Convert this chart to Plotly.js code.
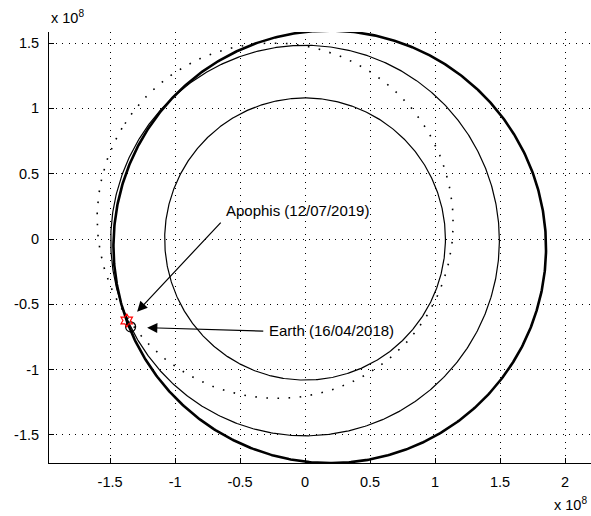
<!DOCTYPE html>
<html>
<head>
<meta charset="utf-8">
<script src="https://cdn.plot.ly/plotly-3.0.1.min.js"></script>
<style>html,body{margin:0;padding:0;background:#fff;}#chart{width:591px;height:516px;}</style>
</head>
<body>
<div id="chart"></div>
<script>
// Orbit parameters (units of 1e8 km)
const orbitNames = ['Venus orbit', 'Earth orbit', 'Transfer orbit', 'Apophis orbit'];
const orbitSemiMajor = [1.08, 1.495, 1.665, 1.375];
const orbitSemiMinor = [1.08, 1.495, 1.655, 1.355];
const orbitCenterX = [0.0, 0.0, 0.19, -0.23];
const orbitCenterY = [0.0, -0.012, -0.06, 0.14];
const orbitTiltDeg = [0, 0, -17, 149];

// Marked positions
const earthPos = [-1.342, -0.672];
const apophisPos = [-1.372, -0.624];

// Annotation texts
const apophisLabel = 'Apophis (12/07/2019)';
const earthLabel = 'Earth (16/04/2018)';

// Tick labels
const xTickVals = [-1.5, -1, -0.5, 0, 0.5, 1, 1.5, 2];
const xTickText = ['-1.5', '-1', '-0.5', '0', '0.5', '1', '1.5', '2'];
const yTickVals = [-1.5, -1, -0.5, 0, 0.5, 1, 1.5];
const yTickText = ['-1.5', '-1', '-0.5', '0', '0.5', '1', '1.5'];

function ellipse(i) {
  const xs = [], ys = [];
  const phi = orbitTiltDeg[i] * Math.PI / 180;
  for (let k = 0; k <= 720; k++) {
    const t = k * Math.PI / 360;
    const ca = orbitSemiMajor[i] * Math.cos(t), sb = orbitSemiMinor[i] * Math.sin(t);
    xs.push(orbitCenterX[i] + ca * Math.cos(phi) - sb * Math.sin(phi));
    ys.push(orbitCenterY[i] + ca * Math.sin(phi) + sb * Math.cos(phi));
  }
  return {x: xs, y: ys};
}

const styles = [
  {color: '#000', width: 1.2},
  {color: '#000', width: 1.2},
  {color: '#000', width: 2.6},
  {color: '#000', width: 1.6, dash: '1.6px,9.5px'}
];

const traces = orbitNames.map((n, i) => {
  const e = ellipse(i);
  return {x: e.x, y: e.y, mode: 'lines', name: n, line: styles[i], hoverinfo: 'skip'};
});

traces.push({x: [earthPos[0]], y: [earthPos[1]], mode: 'markers', name: 'Earth',
  marker: {symbol: 'circle-open', size: 10, color: '#000', line: {width: 1.2, color: '#000'}}});
traces.push({x: [apophisPos[0]], y: [apophisPos[1]], mode: 'markers', name: 'Apophis',
  marker: {symbol: 'hexagram-open', size: 10, color: '#ff0000', line: {width: 1.2, color: '#ff0000'}}});

const fam = 'Liberation Sans, Arial, Helvetica, sans-serif';
const font = {family: fam, size: 14.5, color: '#000'};
const noteFont = {family: fam, size: 15, color: '#000'};

const axisCommon = {
  showline: true, linecolor: '#000', linewidth: 1,
  ticks: 'inside', ticklen: 5, tickcolor: '#000', tickwidth: 1,
  showgrid: true, gridcolor: '#000', gridwidth: 1, griddash: '1px,5.5px',
  zeroline: false, tickfont: font, mirror: false
};

const layout = {
  width: 591, height: 516,
  margin: {l: 49, r: 0, t: 32, b: 53},
  paper_bgcolor: '#fff', plot_bgcolor: '#fff',
  showlegend: false,
  font: font,
  xaxis: Object.assign({}, axisCommon, {range: [-1.97, 2.2], tickmode: 'array', tickvals: xTickVals, ticktext: xTickText, ticklabelstandoff: 6}),
  yaxis: Object.assign({}, axisCommon, {range: [-1.715, 1.585], tickmode: 'array', tickvals: yTickVals, ticktext: yTickText, ticklabelstandoff: 6}),
  annotations: [
    {x: apophisPos[0] + 0.08, y: apophisPos[1] + 0.067, ax: -0.638, ay: 0.137, xref: 'x', yref: 'y', axref: 'x', ayref: 'y',
     text: '', showarrow: true, arrowhead: 2, arrowsize: 1.7, arrowwidth: 1.2, arrowcolor: '#000'},
    {x: -1.215, y: -0.679, ax: -0.31, ay: -0.705, xref: 'x', yref: 'y', axref: 'x', ayref: 'y',
     text: '', showarrow: true, arrowhead: 2, arrowsize: 1.7, arrowwidth: 1.2, arrowcolor: '#000'},
    {x: -0.62, y: 0.221, xref: 'x', yref: 'y', xanchor: 'left', yanchor: 'middle', showarrow: false,
     text: apophisLabel, font: noteFont},
    {x: -0.29, y: -0.70, xref: 'x', yref: 'y', xanchor: 'left', yanchor: 'middle', showarrow: false,
     text: earthLabel, font: noteFont},
    {x: 0, y: 1, xref: 'paper', yref: 'paper', xanchor: 'left', yanchor: 'bottom', yshift: 4, showarrow: false,
     text: 'x 10<sup>8</sup>', font: font},
    {x: 1, y: 0, xref: 'paper', yref: 'paper', xanchor: 'right', yanchor: 'top', yshift: -30, xshift: -2, showarrow: false,
     text: 'x 10<sup>8</sup>', font: font}
  ]
};

Plotly.newPlot('chart', traces, layout, {displayModeBar: false, staticPlot: true});
</script>
</body>
</html>
